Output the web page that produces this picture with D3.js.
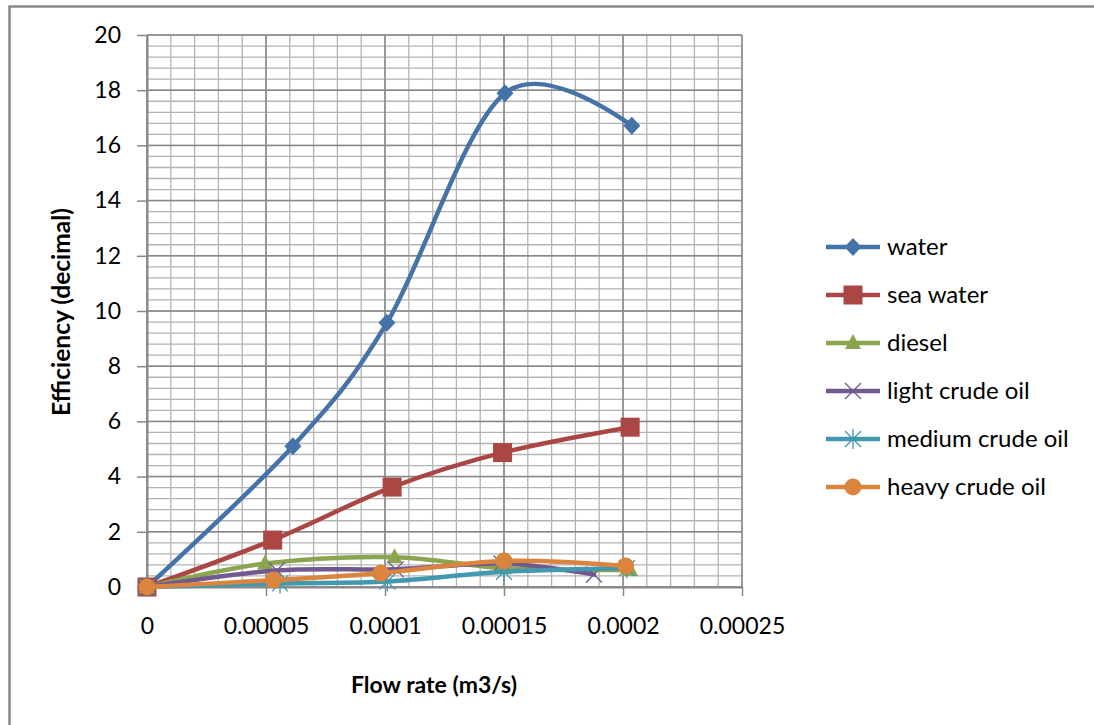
<!DOCTYPE html>
<html>
<head>
<meta charset="utf-8">
<script src="https://cdn.jsdelivr.net/npm/d3@7"></script>
<style>
  html, body { margin: 0; padding: 0; background: #ffffff; }
  svg { display: block; }
  text { font-family: Lato, "Open Sans", sans-serif; fill: #000; }
</style>
</head>
<body>
<svg id="chart" width="1094" height="725"></svg>
<script>
// Efficiency vs flow rate for six fluids
const seriesNames = ["water", "sea water", "diesel", "light crude oil", "medium crude oil", "heavy crude oil"];

const waterFlow = [0, 0.0000613, 0.0001008, 0.0001504, 0.0002037];
const waterEff  = [0, 5.1, 9.57, 17.89, 16.71];

const seaWaterFlow = [0, 0.0000528, 0.000103, 0.0001494, 0.000203];
const seaWaterEff  = [0, 1.70, 3.62, 4.87, 5.79];

const dieselFlow = [0, 0.0000496, 0.000104, 0.000150, 0.000203];
const dieselEff  = [0, 0.85, 1.08, 0.68, 0.62];

const lightCrudeFlow = [0, 0.0000545, 0.0001045, 0.000149, 0.0001878];
const lightCrudeEff  = [0, 0.60, 0.64, 0.85, 0.45];

const mediumCrudeFlow = [0, 0.0000559, 0.000101, 0.00015, 0.0002016];
const mediumCrudeEff  = [0, 0.13, 0.20, 0.55, 0.68];

const heavyCrudeFlow = [0, 0.0000531, 0.0000982, 0.0001500, 0.0002011];
const heavyCrudeEff  = [0, 0.25, 0.50, 0.94, 0.76];

const xTickValues = [0, 0.00005, 0.0001, 0.00015, 0.0002, 0.00025];
const xTickLabels = ["0", "0.00005", "0.0001", "0.00015", "0.0002", "0.00025"];
const yTickValues = [0, 2, 4, 6, 8, 10, 12, 14, 16, 18, 20];

const xTitle = "Flow rate (m3/s)";
const yTitle = "Efficiency (decimal)";

// styling per series
const colors  = ["#4572A7", "#AA4643", "#89A54E", "#71588F", "#4198AF", "#DB843D"];
const markers = ["diamond", "square", "triangle", "x", "star", "circle"];

const flows = [waterFlow, seaWaterFlow, dieselFlow, lightCrudeFlow, mediumCrudeFlow, heavyCrudeFlow];
const effs  = [waterEff, seaWaterEff, dieselEff, lightCrudeEff, mediumCrudeEff, heavyCrudeEff];
const series = seriesNames.map((name, i) => ({
  name, color: colors[i], marker: markers[i],
  points: flows[i].map((f, j) => ({ x: f, y: effs[i][j] }))
}));

const svg = d3.select("#chart");

// outer chart frame
svg.append("path")
  .attr("d", "M9.5,730 L9.5,6.5 L1100,6.5")
  .attr("fill", "none").attr("stroke", "#878787").attr("stroke-width", 2.5);

const plot = { left: 147, right: 742, top: 35, bottom: 587 };
const x = d3.scaleLinear().domain([0, 0.00025]).range([plot.left, plot.right]);
const y = d3.scaleLinear().domain([0, 20]).range([plot.bottom, plot.top]);

// gridlines: minor first, then major
const grid = svg.append("g");
const xMinor = d3.range(0, 0.00025 + 1e-9, 0.00001);
const yMinor = d3.range(0, 20 + 1e-9, 0.4);
grid.selectAll("line.ymin").data(yMinor).join("line")
  .attr("x1", plot.left).attr("x2", plot.right)
  .attr("y1", d => y(d)).attr("y2", d => y(d))
  .attr("stroke", "#b3b3b3").attr("stroke-width", 1.3);
grid.selectAll("line.xmin").data(xMinor).join("line")
  .attr("y1", plot.top).attr("y2", plot.bottom)
  .attr("x1", d => x(d)).attr("x2", d => x(d))
  .attr("stroke", "#b3b3b3").attr("stroke-width", 1.3);
grid.selectAll("line.ymaj").data(yTickValues).join("line")
  .attr("x1", plot.left).attr("x2", plot.right)
  .attr("y1", d => y(d)).attr("y2", d => y(d))
  .attr("stroke", "#878787").attr("stroke-width", 1.5);
grid.selectAll("line.xmaj").data(xTickValues).join("line")
  .attr("y1", plot.top).attr("y2", plot.bottom)
  .attr("x1", d => x(d)).attr("x2", d => x(d))
  .attr("stroke", "#878787").attr("stroke-width", 1.5);

// axes
const xAxis = d3.axisBottom(x).tickValues(xTickValues)
  .tickFormat((d, i) => xTickLabels[i]).tickSize(9).tickPadding(22).tickSizeOuter(0);
const yAxis = d3.axisLeft(y).tickValues(yTickValues)
  .tickFormat(d3.format("d")).tickSize(10).tickPadding(16).tickSizeOuter(0);

const gx = svg.append("g").attr("transform", `translate(0,${plot.bottom})`).call(xAxis);
const gy = svg.append("g").attr("transform", `translate(${plot.left},0)`).call(yAxis);
[gx, gy].forEach(g => {
  g.select(".domain").attr("stroke", "#878787").attr("stroke-width", 2);
  g.selectAll(".tick line").attr("stroke", "#878787").attr("stroke-width", 1.5);
  g.selectAll(".tick text").attr("font-family", "Lato, sans-serif").attr("font-size", 23).attr("fill", "#000");
});

// axis titles
svg.append("text")
  .attr("x", 434).attr("y", 693)
  .attr("text-anchor", "middle").attr("font-size", 23).attr("font-weight", "bold")
  .text(xTitle);
svg.append("text")
  .attr("transform", `translate(70,312) rotate(-90)`)
  .attr("text-anchor", "middle").attr("font-size", 24.5).attr("font-weight", "bold")
  .text(yTitle);

// marker drawing
function drawMarker(g, type, color) {
  switch (type) {
    case "diamond":
      g.append("path").attr("d", "M0,-9 L8.5,0 L0,9 L-8.5,0 Z").attr("fill", color);
      break;
    case "square":
      g.append("rect").attr("x", -9.5).attr("y", -9.5).attr("width", 19).attr("height", 19).attr("fill", color);
      break;
    case "triangle":
      g.append("path").attr("d", "M0,-9 L8,6 L-8,6 Z").attr("fill", color);
      break;
    case "x":
      g.append("path").attr("d", "M-8,-8 L8,8 M-8,8 L8,-8")
        .attr("stroke", color).attr("stroke-width", 1.3).attr("fill", "none");
      break;
    case "star":
      g.append("path").attr("d", "M-8,-8 L8,8 M-8,8 L8,-8 M0,-10 L0,10")
        .attr("stroke", color).attr("stroke-width", 1.3).attr("fill", "none");
      break;
    case "circle":
      g.append("circle").attr("r", 8.5).attr("fill", color);
      break;
  }
}

// smoothed series lines with markers
const line = d3.line().x(d => x(d.x)).y(d => y(d.y)).curve(d3.curveCardinal.tension(0));
series.forEach(s => {
  const g = svg.append("g");
  g.append("path").datum(s.points)
    .attr("d", line).attr("fill", "none")
    .attr("stroke", s.color).attr("stroke-width", 4.5)
    .attr("stroke-linejoin", "round").attr("stroke-linecap", "round");
  s.points.forEach(p => {
    const m = g.append("g").attr("transform", `translate(${x(p.x)},${y(p.y)})`);
    drawMarker(m, s.marker, s.color);
  });
});

// legend
const legend = svg.append("g");
series.forEach((s, i) => {
  const ly = 247 + i * 48;
  const row = legend.append("g").attr("transform", `translate(0,${ly})`);
  row.append("line").attr("x1", 826).attr("x2", 880).attr("y1", 0).attr("y2", 0)
    .attr("stroke", s.color).attr("stroke-width", 4.5);
  const m = row.append("g").attr("transform", "translate(853,0)");
  drawMarker(m, s.marker, s.color);
  row.append("text").attr("x", 887).attr("y", 0).attr("dy", "0.35em")
    .attr("font-size", 24).text(s.name);
});
</script>
</body>
</html>
